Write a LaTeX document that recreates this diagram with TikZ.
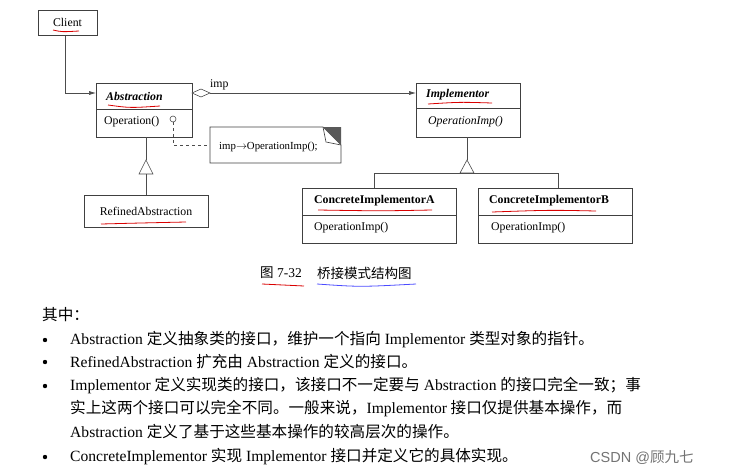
\documentclass[tikz,border=0pt]{standalone}
\usepackage{fontspec}
\setmainfont{Liberation Serif}
\newfontfamily\cjk{Noto Sans CJK SC}
\newfontfamily\wm{Liberation Sans}
\usetikzlibrary{arrows.meta}
\begin{document}
\begin{tikzpicture}[x=1pt,y=-1pt,
  box/.style={draw=black!75,line width=0.6pt},
  ln/.style={draw=black!70,line width=0.6pt},
  lbl/.style={inner sep=0pt,anchor=west,font=\fontsize{11.8}{13}\selectfont},
  txt/.style={inner sep=0pt,anchor=west,font=\fontsize{15.6}{17}\selectfont},
  red/.style={draw=red!85!black,line width=0.8pt},
  blu/.style={draw=blue!70,line width=0.8pt}]
\useasboundingbox (0,0) rectangle (730,474);
% boxes
\node[box,minimum width=59,minimum height=25,anchor=north west] (client) at (38,10) {};
\node[lbl,anchor=center] (clientt) at (67.5,22) {Client};
\draw[box] (96,83) rectangle (192,137); \draw[box] (96,109)--(192,109);
\node[lbl,font=\fontsize{11.8}{13}\selectfont\bfseries\itshape] (abst) at (106,96) {Abstraction};
\node[lbl] (op) at (104,122) {Operation()};
\draw[box] (416,83) rectangle (520,137); \draw[box] (416,108)--(520,108);
\node[lbl,font=\fontsize{11.8}{13}\selectfont\bfseries\itshape] (impt) at (426,95) {Implementor};
\node[lbl,font=\fontsize{11.8}{13}\selectfont\itshape] (impop) at (428,122) {OperationImp()};
\draw[box] (84,195) rectangle (208,227);
\node[lbl,anchor=center] (ref) at (146,211) {RefinedAbstraction};
\draw[box] (302,188) rectangle (456,243); \draw[box] (302,215)--(456,215);
\node[lbl,font=\fontsize{11.8}{13}\selectfont\bfseries] (cia) at (314,201) {ConcreteImplementorA};
\node[lbl] (ciao) at (314,228) {OperationImp()};
\draw[box] (478,188) rectangle (632,243); \draw[box] (478,215)--(632,215);
\node[lbl,font=\fontsize{11.8}{13}\selectfont\bfseries] (cib) at (489,201) {ConcreteImplementorB};
\node[lbl] (cibo) at (491,228) {OperationImp()};
% note
\draw[box] (210,127)--(323,127)--(341,145)--(341,163)--(210,163)--cycle;
\draw[box] (323,127)--(326,142)--(341,145);
\fill[black!65] (323,127)--(341,127)--(341,145)--cycle;
\node[lbl,font=\fontsize{10.8}{12}\selectfont] (note) at (219,147) {imp$\rightarrow$OperationImp();};
% client arrow
\draw[ln,-{Latex[length=7pt,width=4pt]}] (client.south -| 65,0) -- (65,93) -- (96,93);
% aggregation
\draw[ln,-{Latex[length=7pt,width=4pt]}] (210,93) -- (416,93);
\draw[ln,fill=white] (192,93)--(201,89)--(210,93)--(201,97)--cycle;
\node[lbl] (imp) at (210,85) {imp};
% dashed
\draw[ln] (173,119) circle (3);
\draw[ln,dashed] (173,122)--(173,145)--(210,145);
% inheritance left
\draw[ln] (146,137)--(146,160);
\draw[ln,fill=white] (146,160)--(153,174)--(139,174)--cycle;
\draw[ln] (146,174)--(146,195);
% inheritance right
\draw[ln] (467,137)--(467,160);
\draw[ln,fill=white] (467,160)--(474,173)--(460,173)--cycle;
\draw[ln] (374,188)--(374,173)--(558,173)--(558,188);
% caption
\node[txt,font=\fontsize{13.5}{15}\selectfont] (cap) at (260,273) {{\cjk 图} 7-32};
\node[txt,font=\fontsize{13.5}{15}\selectfont\cjk] (cap2) at (317,273) {桥接模式结构图};
% annotation underlines
\draw[red] (53,30) .. controls (62,32) .. (79,31);
\draw[red] (108,105) .. controls (130,108) .. (160,106);
\draw[red] (101,224) .. controls (140,223) .. (186,222);
\draw[red] (428,104) .. controls (460,102) .. (492,103);
\draw[red] (318,210) .. controls (380,211) .. (432,210);
\draw[red] (492,212) .. controls (550,210) .. (596,211);
\draw[red] (262,284) -- (304,286);
\draw[blu] (317,284) .. controls (360,287) .. (416,284);
% body text
\node[txt] (t0) at (42,315) {\cjk 其中：};
\foreach \y in {340,362,386,457} \fill (45,\y) circle (2.2);
\node[txt] (t1) at (70,340) {Abstraction {\cjk 定义抽象类的接口，维护一个指向} Implementor {\cjk 类型对象的指针。}};
\node[txt] (t2) at (70,362) {RefinedAbstraction {\cjk 扩充由} Abstraction {\cjk 定义的接口。}};
\node[txt] (t3) at (70,386) {Implementor {\cjk 定义实现类的接口，该接口不一定要与} Abstraction {\cjk 的接口完全一致；事}};
\node[txt] (t4) at (70,409) {\cjk 实上这两个接口可以完全不同。一般来说，{\rmfamily Implementor} 接口仅提供基本操作，而};
\node[txt] (t5) at (70,432) {Abstraction {\cjk 定义了基于这些基本操作的较高层次的操作。}};
\node[txt] (t6) at (70,457) {ConcreteImplementor {\cjk 实现} Implementor {\cjk 接口并定义它的具体实现。}};
\node[txt,font=\fontsize{14.5}{16}\selectfont\wm,text=black!55] (wmk) at (590,457) {CSDN @{\cjk 顾九七}};
\end{tikzpicture}
\end{document}
